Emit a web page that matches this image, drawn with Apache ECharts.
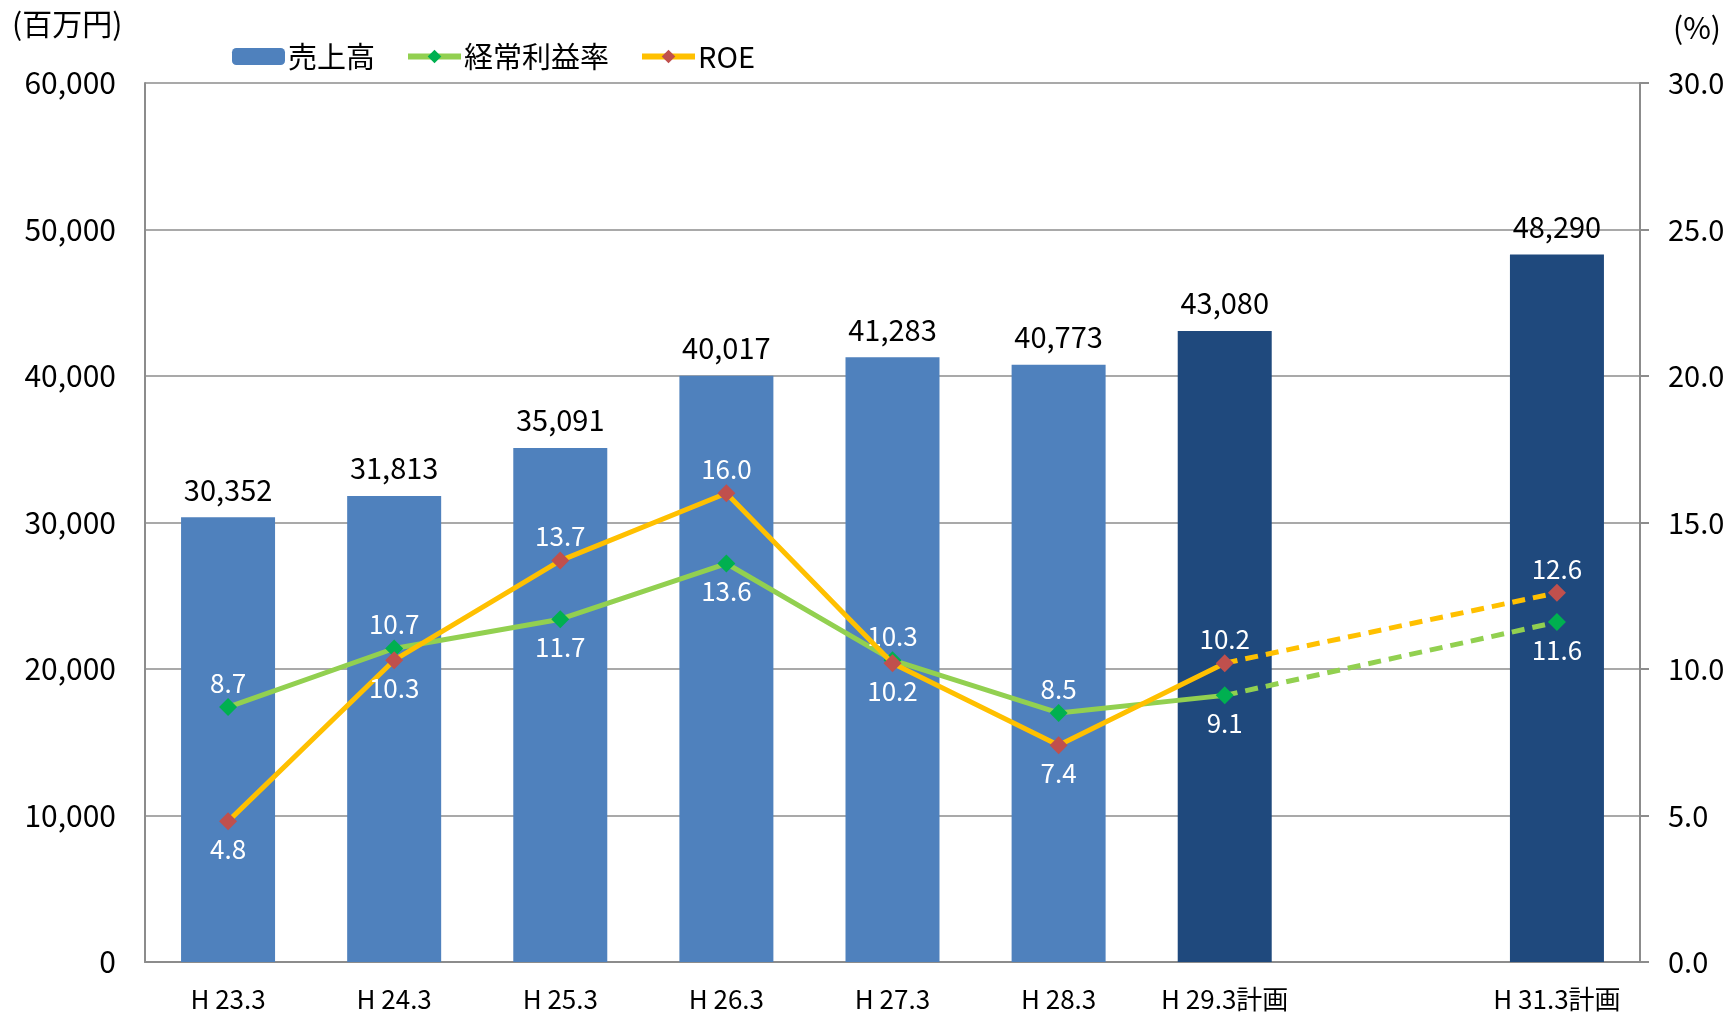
<!DOCTYPE html>
<html>
<head>
<meta charset="utf-8">
<script src="https://cdn.jsdelivr.net/npm/echarts@6/dist/echarts.min.js"></script>
<style>
html,body{margin:0;padding:0;background:#fff;}
#chart{width:1730px;height:1012px;}
</style>
</head>
<body>
<div id="chart"></div>
<script>
// ---- data ----
const categories = ['H 23.3', 'H 24.3', 'H 25.3', 'H 26.3', 'H 27.3', 'H 28.3', 'H 29.3計画', '', 'H 31.3計画'];
const isPlan = [false, false, false, false, false, false, true, false, true];
const sales = [30352, 31813, 35091, 40017, 41283, 40773, 43080, null, 48290];
const ordinaryProfitRate = [8.7, 10.7, 11.7, 13.6, 10.3, 8.5, 9.1, null, 11.6];
const roe = [4.8, 10.3, 13.7, 16.0, 10.2, 7.4, 10.2, null, 12.6];
const leftTicks = { min: 0, max: 60000, interval: 10000 };
const rightTicks = { min: 0, max: 30, interval: 5 };
const lastActualIndex = 6; // last point of the solid lines
const seriesNames = ['売上高', '経常利益率', 'ROE'];

// ---- style ----
const FONT = '"Noto Sans CJK JP", "Noto Sans", sans-serif';
const C_BAR = '#4F81BD', C_BAR_PLAN = '#1F497D';
const C_G_LINE = '#92D050', C_G_MARK = '#00B050';
const C_O_LINE = '#FFC000', C_O_MARK = '#C0504D';
const GRID_C = '#8C8C8C';

function fmtComma(v) { return String(v).replace(/\B(?=(\d{3})+(?!\d))/g, ','); }

const barData = sales.map((v, i) => v == null ? '-' : (isPlan[i] ? { value: v, itemStyle: { color: C_BAR_PLAN } } : v));

// label placement: the higher of the two rates is labelled above, the other below
function labelFor(own, other, i) {
  const up = own[i] >= other[i];
  return { position: up ? 'top' : 'bottom', distance: up ? 2 : 6 };
}

function solidData(vals, other) {
  return vals.map((v, i) => {
    if (v == null || i > lastActualIndex) return '-';
    return { value: v, label: labelFor(vals, other, i) };
  });
}
function dashedData(vals, other) {
  return vals.map((v, i) => {
    if (v == null || i < lastActualIndex) return '-';
    if (i === lastActualIndex) return { value: v, symbol: 'none', label: { show: false } };
    return { value: v, label: labelFor(vals, other, i) };
  });
}

const lineLabel = { show: true, color: '#fff', fontSize: 26, fontFamily: FONT, formatter: p => Number(p.value).toFixed(1) };

function lineSeries(name, vals, other, lineC, markC, dashed) {
  return {
    name: name, type: 'line', yAxisIndex: 1,
    data: dashed ? dashedData(vals, other) : solidData(vals, other),
    connectNulls: true,
    symbol: 'diamond', symbolSize: 18,
    itemStyle: { color: markC },
    lineStyle: { color: lineC, width: 5, type: dashed ? [13, 8] : 'solid' },
    label: lineLabel,
    z: name === 'ROE' ? 4 : 3,
    animation: false
  };
}

const chart = echarts.init(document.getElementById('chart'));
chart.setOption({
  animation: false,
  textStyle: { fontFamily: FONT },
  grid: { left: 145, right: 90, top: 83, bottom: 44 },
  legend: {
    data: [
      { name: seriesNames[0] },
      { name: seriesNames[1], lineStyle: { width: 6 } },
      { name: seriesNames[2], lineStyle: { width: 6 } }
    ],
    left: 227, top: 37,
    itemWidth: 53, itemHeight: 17, itemGap: 30,
    textStyle: { fontSize: 29, color: '#000', fontFamily: FONT, padding: [0, 0, 0, -2] }
  },
  graphic: [
    { type: 'text', left: 12, top: 9, style: { text: '(百万円)', fontSize: 30, fill: '#000', fontFamily: FONT } },
    { type: 'text', right: 9, top: 13, style: { text: '(%)', fontSize: 30, fill: '#000', fontFamily: FONT } }
  ],
  xAxis: {
    type: 'category', data: categories,
    axisLine: { lineStyle: { color: GRID_C, width: 2 } },
    axisTick: { show: false },
    axisLabel: { color: '#000', fontSize: 26, fontFamily: FONT, margin: 24, interval: 0 }
  },
  yAxis: [
    {
      type: 'value', min: leftTicks.min, max: leftTicks.max, interval: leftTicks.interval,
      axisLine: { show: true, lineStyle: { color: GRID_C, width: 2 } },
      axisTick: { show: false },
      splitLine: { show: true, lineStyle: { color: GRID_C, width: 1.5 } },
      axisLabel: { color: '#000', fontSize: 30, fontFamily: FONT, margin: 29, formatter: v => fmtComma(v) }
    },
    {
      type: 'value', min: rightTicks.min, max: rightTicks.max, interval: rightTicks.interval,
      position: 'right',
      axisLine: { show: true, lineStyle: { color: GRID_C, width: 2 } },
      axisTick: { show: true, length: 9, inside: false, lineStyle: { color: GRID_C, width: 2 } },
      splitLine: { show: false },
      axisLabel: { color: '#000', fontSize: 29, fontFamily: FONT, margin: 28, formatter: v => v.toFixed(1) }
    }
  ],
  series: [
    {
      name: seriesNames[0], type: 'bar', data: barData, barWidth: 94,
      itemStyle: { color: C_BAR },
      label: { show: true, position: 'top', distance: 13, color: '#000', fontSize: 29, fontFamily: FONT, formatter: p => fmtComma(p.value) },
      z: 2
    },
    lineSeries(seriesNames[1], ordinaryProfitRate, roe, C_G_LINE, C_G_MARK, false),
    lineSeries(seriesNames[1], ordinaryProfitRate, roe, C_G_LINE, C_G_MARK, true),
    lineSeries(seriesNames[2], roe, ordinaryProfitRate, C_O_LINE, C_O_MARK, false),
    lineSeries(seriesNames[2], roe, ordinaryProfitRate, C_O_LINE, C_O_MARK, true)
  ]
});
</script>
</body>
</html>
